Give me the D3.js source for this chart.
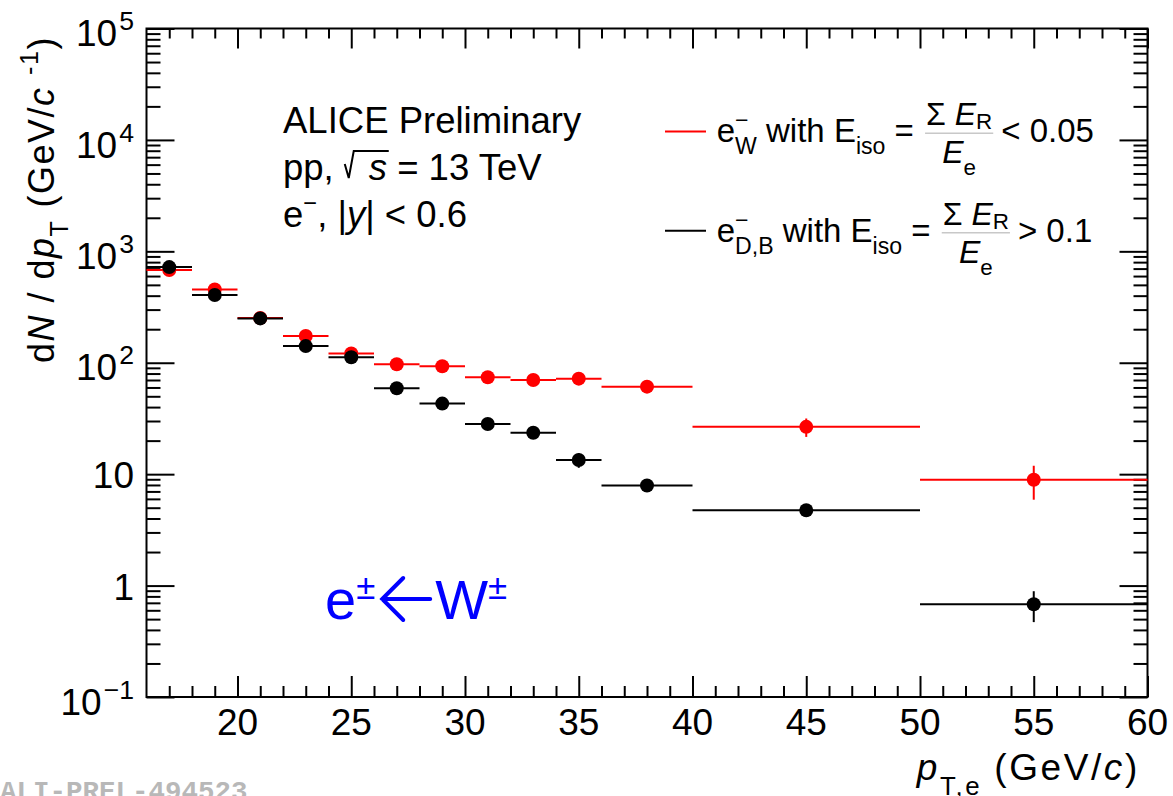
<!DOCTYPE html>
<html><head><meta charset="utf-8">
<script src="https://cdn.jsdelivr.net/npm/d3@7"></script>
<style>
body{margin:0;background:#fff}
svg{display:block;background:#fff}
text{white-space:pre}
</style>
</head><body>
<svg id="c" width="1173" height="796" font-family="Liberation Sans, Arial, Helvetica, sans-serif"></svg>
<script>
// ---- data ----
const binLo     = [16, 18, 20, 22, 24, 26, 28, 30, 32, 34, 36, 40, 50];
const binHi     = [18, 20, 22, 24, 26, 28, 30, 32, 34, 36, 40, 50, 60];
const binCenter = [17, 19, 21, 23, 25, 27, 29, 31, 33, 35, 38, 45, 55];
const wValues   = [680, 455, 252, 174, 121, 97, 93, 74, 70, 72, 61, 26.6, 8.9];
const wErrors   = [15, 12, 8, 7, 5, 5, 5, 4, 4, 5, 4, 5, 3];
const dbValues  = [722, 405, 250, 141, 112, 59, 43, 28.2, 23.5, 13.4, 7.9, 4.75, 0.68];
const dbErrors  = [20, 12, 8, 6, 5, 3, 2, 1.5, 1.3, 2, 0.5, 0.3, 0.21];
const xTickValues = [20, 25, 30, 35, 40, 45, 50, 55, 60];
const xTickLabels = ["20", "25", "30", "35", "40", "45", "50", "55", "60"];
const yTickExps   = [-1, 0, 1, 2, 3, 4, 5];

const svg = d3.select("#c");
const x = d3.scaleLinear().domain([16, 60]).range([146.5, 1147.5]);
const y = d3.scaleLog().domain([0.1, 1e5]).range([697, 28.5]);

// ---- rich text helper ----
function rich(parent, x0, y0, fs, parts, fill, ls) {
  let cx = x0;
  const mk = (xx, yy, size, txt, p) => {
    const t = parent.append("text").attr("x", xx).attr("y", yy).attr("font-size", size)
      .attr("fill", fill || "#000").text(txt);
    if (p && p.it) t.attr("font-style", "italic");
    if (p && p.family) t.style("font-family", p.family);
    if (ls) t.style("letter-spacing", ls + "px");
    return t.node().getComputedTextLength();
  };
  parts.forEach(p => {
    if (p.arrow) {
      const a0 = cx + (p.pre || 0), len = p.arrow, cy = y0 - p.raise, h = p.head;
      parent.append("path")
        .attr("d", `M${a0 + len},${cy} L${a0},${cy} M${a0 + h},${cy - h} L${a0},${cy} L${a0 + h},${cy + h}`)
        .attr("fill", "none").attr("stroke", fill).attr("stroke-width", p.sw).attr("stroke-linecap", "round");
      cx = a0 + len + (p.gap || 0);
    } else if (p.stack) {
      let w = 0;
      const s = fs * (p.scale || 0.7);
      if (p.sup) w = Math.max(w, mk(cx, y0 - fs * (p.supRaise || 0.42), s, p.sup, p));
      if (p.sub) w = Math.max(w, mk(cx, y0 + fs * (p.subDrop || 0.36), s, p.sub, p));
      cx += w + (p.gap || 0);
    } else {
      cx += mk(cx, y0 + (p.dy || 0), fs * (p.scale || 1), p.t, p) + (p.gap || 0);
    }
  });
  return cx;
}
function measure(parent, fs, parts) {
  const g = parent.append("g").attr("visibility", "hidden");
  const w = rich(g, 0, 0, fs, parts);
  g.remove();
  return w;
}
function frac(parent, x0, yb, fs, num, den, numDy, barDy, denDy) {
  const wn = measure(parent, fs, num), wd = measure(parent, fs, den);
  const w = Math.max(wn, wd) + 2;
  rich(parent, x0 + (w - wn) / 2, yb + numDy, fs, num);
  rich(parent, x0 + (w - wd) / 2, yb + denDy, fs, den);
  parent.append("line").attr("x1", x0).attr("x2", x0 + w).attr("y1", yb + barDy).attr("y2", yb + barDy)
    .attr("stroke", "#c8c8c8").attr("stroke-width", 1.5);
  return x0 + w;
}

// ---- axes ticks ----
const xMin = d3.range(17, 60).filter(v => v % 5 !== 0);
const yMaj = yTickExps.map(e => Math.pow(10, e));
const yMin = [];
for (let e = -1; e < 5; e++) for (let m = 2; m <= 9; m++) yMin.push(m * Math.pow(10, e));

function ticks(axisFn, scale, vals, size, tr) {
  svg.append("g").attr("transform", tr)
    .call(axisFn(scale).tickValues(vals).tickSize(size).tickFormat(""))
    .call(g => g.select(".domain").remove())
    .selectAll("line").attr("stroke", "#000").attr("stroke-width", 2);
}
ticks(d3.axisBottom, x, xTickValues, -21, "translate(0,697)");
ticks(d3.axisBottom, x, xMin, -11, "translate(0,697)");
ticks(d3.axisTop, x, xTickValues, -20, "translate(0,28.5)");
ticks(d3.axisTop, x, xMin, -10, "translate(0,28.5)");
ticks(d3.axisLeft, y, yMaj, -28, "translate(146.5,0)");
ticks(d3.axisLeft, y, yMin, -14, "translate(146.5,0)");
ticks(d3.axisRight, y, yMaj, -28, "translate(1147.5,0)");
ticks(d3.axisRight, y, yMin, -14, "translate(1147.5,0)");

svg.append("rect").attr("x", 146.5).attr("y", 28.5).attr("width", 1001).attr("height", 668.5)
  .attr("fill", "none").attr("stroke", "#000").attr("stroke-width", 2);

// x tick labels
svg.append("g").selectAll("text").data(xTickValues).join("text")
  .attr("x", d => x(d)).attr("y", 735).attr("text-anchor", "middle").attr("font-size", 37)
  .text((d, i) => xTickLabels[i]);

// y tick labels
const fsT = 37;
yTickExps.forEach(e => {
  const v = Math.pow(10, e);
  const g = svg.append("g");
  if (e === 0 || e === 1) {
    g.append("text").attr("x", 134).attr("y", y(v) + 1 + 0.358 * fsT)
      .attr("text-anchor", "end").attr("font-size", fsT).text(e === 0 ? "1" : "10");
  } else {
    const base = y(v) + 4.5 + 0.358 * fsT;
    const sup = e < 0 ? "\u2212" + (-e) : String(e);
    const ts = g.append("text").attr("x", 134).attr("y", base - 16)
      .attr("text-anchor", "end").attr("font-size", fsT * 0.72).text(sup);
    const ws = ts.node().getComputedTextLength();
    g.append("text").attr("x", 134 - ws - 2).attr("y", base)
      .attr("text-anchor", "end").attr("font-size", fsT).text("10");
  }
});

// ---- data marks ----
function series(vals, errs, color) {
  const g = svg.append("g");
  g.selectAll("line.h").data(vals).join("line").attr("class", "h")
    .attr("x1", (d, i) => x(binLo[i])).attr("x2", (d, i) => x(binHi[i]))
    .attr("y1", d => y(d)).attr("y2", d => y(d))
    .attr("stroke", color).attr("stroke-width", 2);
  g.selectAll("line.v").data(vals).join("line").attr("class", "v")
    .attr("x1", (d, i) => x(binCenter[i])).attr("x2", (d, i) => x(binCenter[i]))
    .attr("y1", (d, i) => y(d - errs[i])).attr("y2", (d, i) => y(d + errs[i]))
    .attr("stroke", color).attr("stroke-width", 2);
  g.selectAll("circle").data(vals).join("circle")
    .attr("cx", (d, i) => x(binCenter[i])).attr("cy", d => y(d)).attr("r", 7).attr("fill", color);
}
series(wValues, wErrors, "#ff0000");
series(dbValues, dbErrors, "#000000");

// ---- ALICE text ----
const fsA = 36.5;
const ga = svg.append("g");
rich(ga, 283, 133, fsA, [{t: "ALICE Preliminary"}]);
let px = rich(ga, 283, 180, fsA, [{t: "pp,"}]) + 11;
ga.append("path").attr("d", `M${px},${164} L${px + 4},${178} L${px + 9},${151} L${px + 44},${151}`)
  .attr("fill", "none").attr("stroke", "#000").attr("stroke-width", 2);
rich(ga, px + 24, 180, fsA, [{t: "s", it: true}, {t: " = 13 TeV"}]);
rich(ga, 283, 227, fsA, [{t: "e"}, {stack: true, sup: "\u2212", supRaise: 0.45, scale: 0.65}, {t: ", |"}, {t: "y", it: true}, {t: "| < 0.6"}]);

// ---- legend ----
const fsL = 33;
const fsF = 32;
const gl = svg.append("g");
gl.append("line").attr("x1", 665).attr("x2", 706).attr("y1", 131.5).attr("y2", 131.5).attr("stroke", "#ff0000").attr("stroke-width", 2);
let lx = rich(gl, 716.7, 141.7, fsL, [{t: "e"}, {stack: true, sup: "\u2212", sub: "W"}, {t: " with E"}, {stack: true, sub: "iso"}, {t: " = "}]);
lx = frac(gl, lx + 2, 141.7, fsF, [{t: "\u03A3 "}, {t: "E", it: true}, {stack: true, sub: "R", subDrop: 0.12}], [{t: "E", it: true}, {stack: true, sub: "e"}], -17, -8.4, 21.6);
rich(gl, lx + 8, 141.7, fsL, [{t: "< 0.05"}]);

gl.append("line").attr("x1", 665).attr("x2", 706).attr("y1", 230.7).attr("y2", 230.7).attr("stroke", "#000").attr("stroke-width", 2);
lx = rich(gl, 716.7, 241.7, fsL, [{t: "e"}, {stack: true, sup: "\u2212", sub: "D,B"}, {t: " with E"}, {stack: true, sub: "iso"}, {t: " = "}]);
lx = frac(gl, lx + 2, 241.7, fsF, [{t: "\u03A3 "}, {t: "E", it: true}, {stack: true, sub: "R", subDrop: 0.12}], [{t: "E", it: true}, {stack: true, sub: "e"}], -17, -9, 21.6);
rich(gl, lx + 8, 241.7, fsL, [{t: "> 0.1"}]);

// ---- blue annotation ----
const gb = svg.append("g");
rich(gb, 325, 619, 56, [
  {t: "e"}, {stack: true, sup: "\u00B1", scale: 0.62, supRaise: 0.36},
  {arrow: 48, pre: 7, raise: 20, head: 21, sw: 4, gap: 5},
  {t: "W"}, {stack: true, sup: "\u00B1", scale: 0.62, supRaise: 0.36}
], "#0000ff");

// ---- axis titles ----
const gx = svg.append("g");
rich(gx, 916.7, 780, 37, [{t: "p", it: true}, {stack: true, sub: "T,e", subDrop: 0.4, gap: 12}, {t: "(GeV/"}, {t: "c", it: true}, {t: ")"}], "#000", 2.6);

const gy = svg.append("g").attr("transform", "translate(54,363) rotate(-90)");
rich(gy, 0, 0, 36, [{t: "d"}, {t: "N", it: true}, {t: " / d"}, {t: "p", it: true}, {stack: true, sub: "T", subDrop: 0.4, gap: 12}, {t: "(GeV/"}, {t: "c", it: true}, {t: " "}, {stack: true, sup: "-1", supRaise: 0.45}, {t: ")"}], "#000", 1.5);

// watermark
svg.append("text").attr("x", 0).attr("y", 800).style("font-family", "'Liberation Mono', 'DejaVu Sans Mono', monospace")
  .attr("font-weight", "bold").attr("font-size", 27.5).attr("fill", "#b8b8b8").text("ALI-PREL-494523");
</script>
</body></html>
